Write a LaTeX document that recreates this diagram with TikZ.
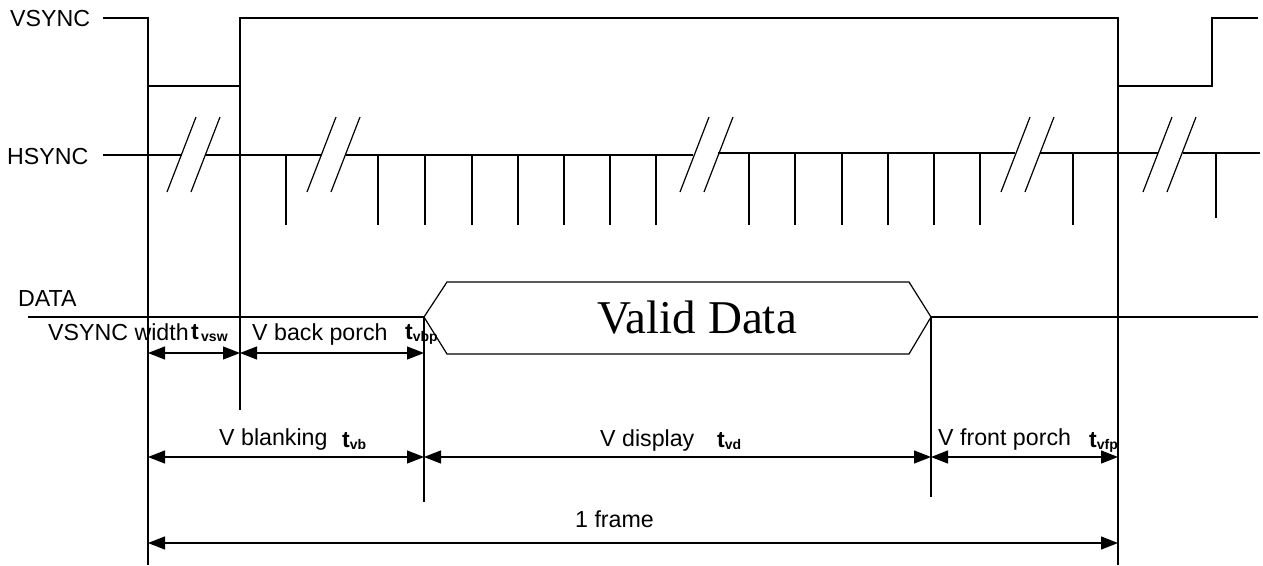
\documentclass[tikz,border=0pt]{standalone}
\usepackage{fontspec}
\setmainfont{Liberation Sans}
\newfontfamily\vdfont{Liberation Serif}
\usetikzlibrary{arrows.meta}
\newcommand{\tlab}[1]{\textbf{t}\raisebox{-2pt}{\fontsize{14}{14}\selectfont\bfseries #1}}
\begin{document}
\begin{tikzpicture}[x=1pt,y=-1pt,
  sig/.style={line width=1.2pt},
  dim/.style={line width=1.2pt, {Triangle[length=17pt,width=13pt]}-{Triangle[length=17pt,width=13pt]}},
  lbl/.style={anchor=base west, inner sep=0pt, font=\fontsize{23.2}{26}\selectfont},
  tl/.style={anchor=base west, inner sep=0pt, font=\fontsize{23}{26}\selectfont},
]
\useasboundingbox (0,0) rectangle (1263,565);

% VSYNC
\node[lbl] (vsl) at (10,26.5) {VSYNC};
\draw[sig] (103,18) -- (148,18) -- (148,86) -- (240,86) -- (240,18) -- (1118,18) -- (1118,86) -- (1212,86) -- (1212,18) -- (1258,18);
\draw[sig] (148,86) -- (148,565);
\draw[sig] (240,86) -- (240,410);
\draw[sig] (1118,86) -- (1118,565);

% HSYNC
\node[lbl] (hsl) at (7,164) {HSYNC};
\draw[sig] (103,155) -- (182,155) (206,155) -- (321,155) (346,155) -- (693,155)
  (718,153) -- (1015,153) (1040,153) -- (1158,153) (1183,153) -- (1260,153);
\foreach \x in {167,307,680,1001,1143} {
  \draw[sig] (\x,192) -- ++(29,-75);
  \draw[sig] (\x+24,192) -- ++(29,-75);
}
\foreach \x in {286,378,425,472,518,564,610,656} { \draw[sig] (\x,155) -- (\x,225); }
\foreach \x in {749,795,842,888,934,980,1073} { \draw[sig] (\x,153) -- (\x,225); }
\draw[sig] (1216,153) -- (1216,218);

% DATA
\node[lbl] (dl) at (18,306) {DATA};
\draw[sig] (28,317) -- (424,317);
\draw[sig] (424,317) -- (447,282) -- (909,282) -- (931,317) -- (909,354) -- (447,354) -- cycle;
\draw[sig] (931,317) -- (1258,317);
\draw[sig] (424,317) -- (424,502);
\draw[sig] (931,317) -- (931,497);
\node[font=\vdfont\fontsize{47}{47}\selectfont, inner sep=0pt] (vd) at (697,318) {Valid Data};

% dimension points
\coordinate (a1) at (148,353);
\coordinate (a2) at (240,353);
\coordinate (a3) at (424,353);
\coordinate (b1) at (148,457);
\coordinate (b2) at (424,457);
\coordinate (b3) at (931,457);
\coordinate (b4) at (1118,457);
\coordinate (c1) at (148,543);
\coordinate (c2) at (1118,543);
\draw[dim] (a1) -- (a2);
\draw[dim] (a2) -- (a3);
\draw[dim] (b1) -- (b2);
\draw[dim] (b2) -- (b3);
\draw[dim] (b3) -- (b4);
\draw[dim] (c1) -- (c2);

% labels
\node[lbl] (l1) at (48,340) {VSYNC width};
\node[tl] (t1) at (191,339) {\tlab{\,vsw}};
\node[lbl] (l2) at (252,340) {V back porch};
\node[tl] (t2) at (405,339) {\tlab{vbp}};
\node[lbl] (l3) at (219,445) {V blanking};
\node[tl] (t3) at (342,447) {\tlab{vb}};
\node[lbl] (l4) at (600,446) {V display};
\node[tl] (t4) at (717,447) {\tlab{vd}};
\node[lbl] (l5) at (938,445) {V front porch};
\node[tl] (t5) at (1089,447) {\tlab{vfp}};
\node[lbl] (l6) at (575,527) {1 frame};
\end{tikzpicture}
\end{document}
